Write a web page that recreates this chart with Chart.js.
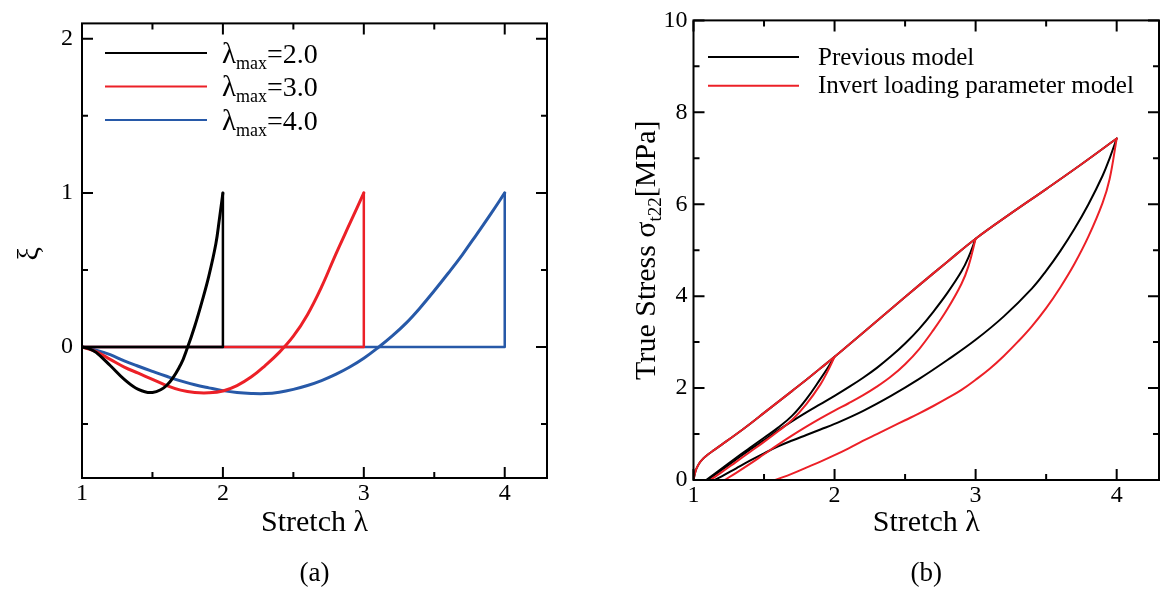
<!DOCTYPE html>
<html>
<head>
<meta charset="utf-8">
<title>Loading parameter and true stress vs stretch</title>
<script src="https://cdn.jsdelivr.net/npm/chart.js@4.4.1/dist/chart.umd.min.js"></script>
<style>
  html, body { margin: 0; padding: 0; background: #fff; }
  #wrap { position: relative; width: 1161px; height: 590px; overflow: hidden; }
  #chartA { position: absolute; left: 0; top: 0; }
  #chartB { position: absolute; left: 580px; top: 0; }
</style>
</head>
<body>
<div id="wrap">
  <canvas id="chartA" width="580" height="590"></canvas>
  <canvas id="chartB" width="581" height="590"></canvas>
</div>
<script>
const SERIF = "'Liberation Serif', 'Times New Roman', serif";
const BLACK = '#000000';
const RED = '#ec2027';
const BLUE = '#2759a8';

// ---- (a) loading parameter xi vs stretch ----
const xiLegend = ['2.0', '3.0', '4.0'];

const xiLam2 = [1.0, 1.05, 1.1, 1.2, 1.3, 1.4, 1.5, 1.6, 1.7, 1.75, 1.8, 1.85, 1.9, 1.95, 1.975, 2.0];
const xiVal2 = [0, -0.01, -0.035, -0.12, -0.21, -0.275, -0.295, -0.25, -0.115, 0, 0.135, 0.29, 0.46, 0.67, 0.83, 1.0];

const xiLam3 = [1.0, 1.1, 1.2, 1.3, 1.4, 1.5, 1.6, 1.7, 1.8, 1.9, 2.0, 2.1, 2.2, 2.3, 2.4, 2.5, 2.6, 2.7, 2.8, 2.9, 3.0];
const xiVal3 = [0, -0.03, -0.08, -0.13, -0.17, -0.21, -0.25, -0.28, -0.295, -0.297, -0.285, -0.25, -0.195, -0.12, -0.035, 0.07, 0.21, 0.39, 0.6, 0.8, 1.0];

const xiLam4 = [1.0, 1.1, 1.2, 1.3, 1.4, 1.5, 1.6, 1.7, 1.8, 1.9, 2.0, 2.1, 2.2, 2.3, 2.4, 2.5, 2.6, 2.7, 2.8, 2.9, 3.0, 3.1, 3.2, 3.3, 3.4, 3.5, 3.6, 3.7, 3.8, 3.9, 4.0];
const xiVal4 = [0, -0.02, -0.05, -0.09, -0.125, -0.158, -0.19, -0.22, -0.245, -0.265, -0.283, -0.295, -0.301, -0.302, -0.293, -0.275, -0.25, -0.218, -0.178, -0.13, -0.073, -0.005, 0.07, 0.155, 0.255, 0.365, 0.48, 0.6, 0.73, 0.862, 1.0];

// reset to zero at the maximum stretch, then back to lambda = 1
const xiResetLam2 = [2, 2, 1];
const xiResetLam3 = [3, 3, 1];
const xiResetLam4 = [4, 4, 1];
const xiResetVal = [1, 0, 0];

// ---- (b) true stress vs stretch ----
const stressLegend = ['Previous model', 'Invert loading parameter model'];

const loadLam = [1.0, 1.01, 1.02, 1.04, 1.07, 1.1, 1.15, 1.2, 1.3, 1.4, 1.5, 1.6, 1.7, 1.8, 1.9, 2.0, 2.2, 2.4, 2.6, 2.8, 3.0, 3.25, 3.5, 3.75, 4.0];
const loadSig = [0, 0.14, 0.24, 0.36, 0.47, 0.55, 0.66, 0.77, 0.99, 1.22, 1.46, 1.7, 1.94, 2.18, 2.43, 2.68, 3.2, 3.72, 4.24, 4.75, 5.25, 5.8, 6.33, 6.87, 7.43];

const prevLam2 = [1.09, 1.2, 1.3, 1.4, 1.5, 1.6, 1.7, 1.8, 1.9, 1.95, 2.0];
const prevSig2 = [0, 0.25, 0.48, 0.7, 0.92, 1.14, 1.4, 1.76, 2.2, 2.43, 2.68];
const invLam2 = [1.12, 1.2, 1.3, 1.4, 1.5, 1.6, 1.7, 1.8, 1.9, 1.95, 2.0];
const invSig2 = [0, 0.17, 0.39, 0.61, 0.83, 1.06, 1.31, 1.65, 2.08, 2.36, 2.68];

const prevLam3 = [1.1, 1.2, 1.3, 1.4, 1.5, 1.6, 1.7, 1.8, 1.9, 2.0, 2.1, 2.2, 2.3, 2.4, 2.5, 2.6, 2.7, 2.8, 2.9, 2.95, 3.0];
const prevSig3 = [0, 0.22, 0.44, 0.66, 0.87, 1.08, 1.28, 1.47, 1.65, 1.83, 2.02, 2.22, 2.44, 2.69, 2.97, 3.29, 3.66, 4.07, 4.54, 4.85, 5.25];
const invLam3 = [1.22, 1.3, 1.4, 1.5, 1.6, 1.7, 1.8, 1.9, 2.0, 2.1, 2.2, 2.3, 2.4, 2.5, 2.6, 2.7, 2.8, 2.9, 2.95, 3.0];
const invSig3 = [0, 0.15, 0.35, 0.56, 0.77, 0.97, 1.16, 1.34, 1.51, 1.67, 1.84, 2.03, 2.25, 2.52, 2.85, 3.26, 3.72, 4.27, 4.66, 5.25];

const prevLam4 = [1.15, 1.2, 1.3, 1.4, 1.5, 1.6, 1.7, 1.8, 1.9, 2.0, 2.2, 2.4, 2.6, 2.8, 3.0, 3.2, 3.4, 3.5, 3.6, 3.7, 3.8, 3.9, 3.95, 4.0];
const prevSig4 = [0, 0.08, 0.25, 0.42, 0.58, 0.73, 0.86, 0.98, 1.1, 1.22, 1.5, 1.83, 2.2, 2.61, 3.05, 3.56, 4.17, 4.55, 4.98, 5.46, 6.0, 6.62, 7.0, 7.43];
const invLam4 = [1.58, 1.7, 1.8, 1.9, 2.0, 2.1, 2.2, 2.3, 2.4, 2.5, 2.6, 2.7, 2.8, 2.9, 3.0, 3.1, 3.2, 3.3, 3.4, 3.5, 3.6, 3.7, 3.8, 3.9, 3.95, 4.0];
const invSig4 = [0, 0.14, 0.27, 0.4, 0.54, 0.69, 0.85, 1.0, 1.15, 1.3, 1.45, 1.61, 1.78, 1.96, 2.18, 2.42, 2.7, 3.01, 3.35, 3.74, 4.19, 4.7, 5.3, 6.03, 6.55, 7.43];

/**
 * Pair two arrays into {x, y} points
 */
function toPoints(xs, ys) {
    return xs.map((x, i) => ({ x: x, y: ys[i] }));
}

function isMajor(v, step) {
    const r = v / step;
    return Math.abs(r - Math.round(r)) < 1e-6;
}

function curve(xs, ys, color, width, smooth) {
    return {
        data: toPoints(xs, ys),
        borderColor: color,
        borderWidth: width,
        pointRadius: 0,
        fill: false,
        tension: smooth ? 0.4 : 0,
        borderJoinStyle: 'round',
        borderCapStyle: 'round'
    };
}

/**
 * Draw text made of runs (for subscripts), returns total width
 */
function drawRuns(ctx, runs, x, y) {
    let cx = x;
    runs.forEach(r => {
        ctx.font = r.size + 'px ' + SERIF;
        ctx.fillText(r.text, cx, y + (r.dy || 0));
        cx += ctx.measureText(r.text).width;
    });
    return cx - x;
}

function runsWidth(ctx, runs) {
    let w = 0;
    runs.forEach(r => {
        ctx.font = r.size + 'px ' + SERIF;
        w += ctx.measureText(r.text).width;
    });
    return w;
}

// frame on four sides with inward ticks, major ticks longer
const frameTicks = {
    id: 'frameTicks',
    afterDatasetsDraw(chart, args, opts) {
        const { ctx, chartArea: a, scales } = chart;
        ctx.save();
        ctx.strokeStyle = BLACK;
        ctx.lineWidth = 2;
        ctx.beginPath();
        scales.x.ticks.forEach(t => {
            const p = scales.x.getPixelForValue(t.value);
            const len = isMajor(t.value, opts.xMajor) ? 11 : 6;
            ctx.moveTo(p, a.bottom); ctx.lineTo(p, a.bottom - len);
            ctx.moveTo(p, a.top); ctx.lineTo(p, a.top + len);
        });
        scales.y.ticks.forEach(t => {
            const p = scales.y.getPixelForValue(t.value);
            const len = isMajor(t.value, opts.yMajor) ? 11 : 6;
            ctx.moveTo(a.left, p); ctx.lineTo(a.left + len, p);
            ctx.moveTo(a.right, p); ctx.lineTo(a.right - len, p);
        });
        ctx.stroke();
        ctx.strokeRect(a.left, a.top, a.right - a.left, a.bottom - a.top);
        ctx.restore();
    }
};

function axisScales(o) {
    const tickFont = { family: SERIF, size: 24 };
    return {
        x: {
            type: 'linear', min: o.xMin, max: o.xMax,
            grid: { display: false, drawTicks: false },
            border: { display: false },
            ticks: {
                stepSize: 0.5, includeBounds: false, autoSkip: false, maxRotation: 0,
                padding: 1, color: BLACK, font: tickFont,
                callback: v => isMajor(v, 1) ? String(v) : ''
            },
            afterFit: s => { s.height = o.xHeight; }
        },
        y: {
            type: 'linear', min: o.yMin, max: o.yMax,
            grid: { display: false, drawTicks: false },
            border: { display: false },
            ticks: {
                stepSize: o.yStep, includeBounds: false, autoSkip: false,
                padding: o.yPad, color: BLACK, font: tickFont,
                callback: v => isMajor(v, o.yMajor) ? String(v) : ''
            },
            afterFit: s => { s.width = o.yWidth; }
        }
    };
}

// ---- chart (a) texts ----
const textsA = {
    id: 'textsA',
    afterDraw(chart) {
        const { ctx, chartArea: a } = chart;
        const colors = [BLACK, RED, BLUE];
        ctx.save();
        ctx.fillStyle = BLACK;
        ctx.textBaseline = 'alphabetic';
        ctx.textAlign = 'left';
        xiLegend.forEach((lab, i) => {
            const ly = a.top + 29.5 + i * 33.5;
            ctx.strokeStyle = colors[i];
            ctx.lineWidth = 2;
            ctx.beginPath();
            ctx.moveTo(a.left + 23, ly);
            ctx.lineTo(a.left + 125, ly);
            ctx.stroke();
            drawRuns(ctx, [
                { text: 'λ', size: 29 },
                { text: 'max', size: 18, dy: 6 },
                { text: '=' + lab, size: 28 }
            ], a.left + 140, ly + 10);
        });
        const cx = (a.left + a.right) / 2;
        ctx.textAlign = 'center';
        ctx.font = '30px ' + SERIF;
        ctx.fillText('Stretch λ', cx, 531);
        ctx.font = '27px ' + SERIF;
        ctx.fillText('(a)', cx, 581);
        // rotated y title
        ctx.translate(30, (a.top + a.bottom) / 2 + 3);
        ctx.rotate(-Math.PI / 2);
        ctx.textBaseline = 'middle';
        ctx.font = '30px ' + SERIF;
        ctx.fillText('ξ', 0, 0);
        ctx.restore();
    }
};

// ---- chart (b) texts ----
const textsB = {
    id: 'textsB',
    afterDraw(chart) {
        const { ctx, chartArea: a } = chart;
        const colors = [BLACK, RED];
        ctx.save();
        ctx.fillStyle = BLACK;
        ctx.textBaseline = 'alphabetic';
        ctx.textAlign = 'left';
        stressLegend.forEach((lab, i) => {
            const ly = a.top + 36.7 + i * 28.6;
            ctx.strokeStyle = colors[i];
            ctx.lineWidth = 2;
            ctx.beginPath();
            ctx.moveTo(a.left + 14.5, ly);
            ctx.lineTo(a.left + 105.5, ly);
            ctx.stroke();
            ctx.font = '25px ' + SERIF;
            ctx.fillText(lab, a.left + 124.5, ly + 7.5);
        });
        const cx = (a.left + a.right) / 2;
        ctx.textAlign = 'center';
        ctx.font = '30px ' + SERIF;
        ctx.fillText('Stretch λ', cx, 531);
        ctx.font = '27px ' + SERIF;
        ctx.fillText('(b)', cx, 581);
        // rotated y title with subscript
        const runs = [
            { text: 'True Stress σ', size: 30 },
            { text: 't22', size: 19, dy: 6 },
            { text: '[MPa]', size: 30 }
        ];
        ctx.textAlign = 'left';
        ctx.translate(75, (a.top + a.bottom) / 2);
        ctx.rotate(-Math.PI / 2);
        const w = runsWidth(ctx, runs);
        drawRuns(ctx, runs, -w / 2, 0);
        ctx.restore();
    }
};

function baseOptions(scales, frameOpts, pad) {
    return {
        responsive: false,
        animation: false,
        devicePixelRatio: 1,
        layout: { padding: pad },
        plugins: {
            legend: { display: false },
            tooltip: { enabled: false },
            frameTicks: frameOpts
        },
        scales: scales
    };
}

new Chart(document.getElementById('chartA'), {
    type: 'line',
    data: {
        datasets: [
            curve(xiLam2, xiVal2, BLACK, 3, true),
            curve(xiResetLam2, xiResetVal, BLACK, 2.5, false),
            curve(xiLam3, xiVal3, RED, 3, true),
            curve(xiResetLam3, xiResetVal, RED, 2.5, false),
            curve(xiLam4, xiVal4, BLUE, 3, true),
            curve(xiResetLam4, xiResetVal, BLUE, 2.5, false)
        ]
    },
    options: baseOptions(
        axisScales({ xMin: 1, xMax: 4.3, yMin: -0.85, yMax: 2.1, yStep: 0.5, yMajor: 1, yPad: 9, xHeight: 112, yWidth: 82 }),
        { xMajor: 1, yMajor: 1 },
        { top: 13, right: 33, left: 0, bottom: 0 }
    ),
    plugins: [frameTicks, textsA]
});

new Chart(document.getElementById('chartB'), {
    type: 'line',
    data: {
        datasets: [
            curve(loadLam, loadSig, RED, 2, true),
            curve(invLam2, invSig2, RED, 2, true),
            curve(invLam3, invSig3, RED, 2, true),
            curve(invLam4, invSig4, RED, 2, true),
            curve(loadLam, loadSig, BLACK, 2, true),
            curve(prevLam2, prevSig2, BLACK, 2, true),
            curve(prevLam3, prevSig3, BLACK, 2, true),
            curve(prevLam4, prevSig4, BLACK, 2, true)
        ]
    },
    options: baseOptions(
        axisScales({ xMin: 1, xMax: 4.3, yMin: 0, yMax: 10, yStep: 1, yMajor: 2, yPad: 6, xHeight: 110, yWidth: 113.5 }),
        { xMajor: 1, yMajor: 2 },
        { top: 14, right: 2, left: 0, bottom: 0 }
    ),
    plugins: [frameTicks, textsB]
});
</script>
</body>
</html>
